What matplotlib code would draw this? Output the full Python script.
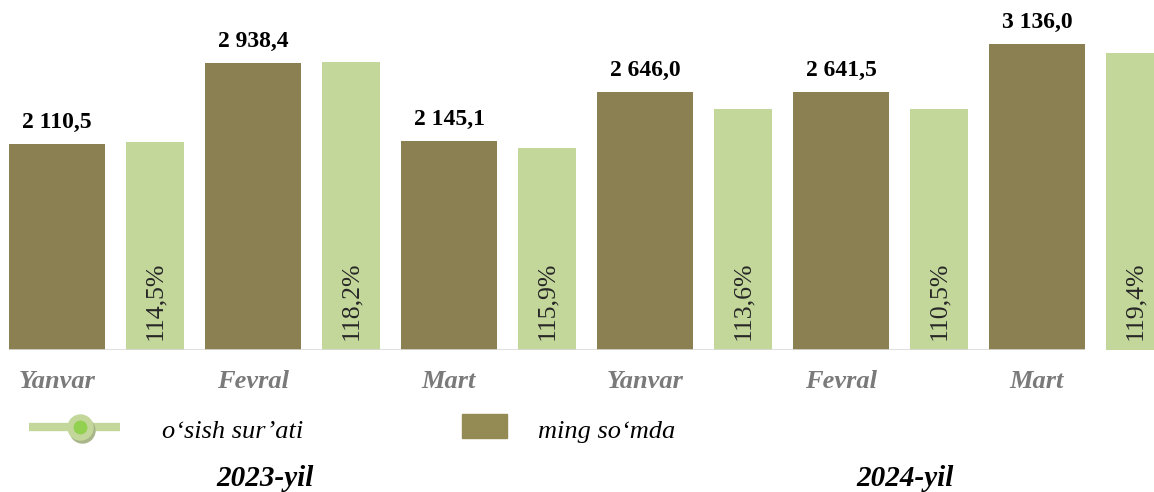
import matplotlib.pyplot as plt
from matplotlib.lines import Line2D
from matplotlib.patches import Rectangle

# -----------------------------
# DATA
# -----------------------------
oylar = ["Yanvar", "Fevral", "Mart", "Yanvar", "Fevral", "Mart"]
ming_som = [2110.5, 2938.4, 2145.1, 2646.0, 2641.5, 3136.0]
osish_bar = [2132, 2952, 2070, 2470, 2470, 3044]   # green bar heights, same scale
osish_foiz = ["114,5%", "118,2%", "115,9%", "113,6%", "110,5%", "119,4%"]
yillar = ["2023-yil", "2024-yil"]

BROWN = "#8B8052"
GREEN = "#C4D79B"
SERIF = "Liberation Serif"

W, H = 1154, 492
fig = plt.figure(figsize=(W / 100, H / 100), dpi=100)
ax = fig.add_axes([0, 142 / H, 1, 350 / H])

x = list(range(len(oylar)))
xg = [i + 0.5 for i in x]

ax.bar(x, ming_som, width=0.49, color=BROWN)
ax.bar(xg, osish_bar, width=0.30, color=GREEN)
ax.hlines(0, x[0] - 0.245, x[-1] + 0.245, color="#d9d9d9", lw=1.2)

ax.set_xlim(-0.291, 5.597)
ax.set_ylim(0, 3588)
ax.axis("off")

def fmt(v):
    s = f"{v:,.1f}"
    return s.replace(",", " ").replace(".", ",")

for xi, v in zip(x, ming_som):
    ax.annotate(fmt(v), (xi, v), xytext=(0, 11.5), textcoords="offset points",
                ha="center", va="baseline", fontsize=17, fontweight="bold",
                family=SERIF, color="black")

for xi, lab in zip(xg, osish_foiz):
    ax.annotate(lab, (xi, 0), xytext=(0, 7), textcoords="offset points",
                ha="center", va="bottom", rotation=90, fontsize=18.5,
                family=SERIF, color="#262626")

for xi, lab in zip(x, oylar):
    ax.text(xi, -38 / 350, lab, transform=ax.get_xaxis_transform(),
            ha="center", va="baseline", fontsize=19, fontstyle="italic",
            fontweight="bold", family=SERIF, color="#7a7a7a")

# -----------------------------
# LEGEND + YEAR LABELS (pixel overlay)
# -----------------------------
ov = fig.add_axes([0, 0, 1, 1])
ov.set_xlim(0, W)
ov.set_ylim(H, 0)
ov.axis("off")

ov.add_line(Line2D([29, 120], [427, 427], color=GREEN, lw=6, solid_capstyle="butt"))
ov.plot([82], [429.5], "o", ms=19, color="#A8B68A", mec="none")
ov.plot([80], [427], "o", ms=19, color=GREEN, mec="none")
ov.plot([80], [427], "o", ms=10, color="#92D050", mec="none")
ov.text(162, 438, "o‘sish sur’ati", fontsize=19, fontstyle="italic",
        family=SERIF, va="baseline", ha="left")

ov.add_patch(Rectangle((462, 414), 45, 24, color="#948A54"))
ov.text(538, 438, "ming so‘mda", fontsize=19, fontstyle="italic",
        family=SERIF, va="baseline", ha="left")

for xc, lab in zip([265, 905], yillar):
    ov.text(xc, 486, lab, fontsize=21, fontstyle="italic", fontweight="bold",
            family=SERIF, ha="center", va="baseline")

fig.savefig("out.png", dpi=100)
